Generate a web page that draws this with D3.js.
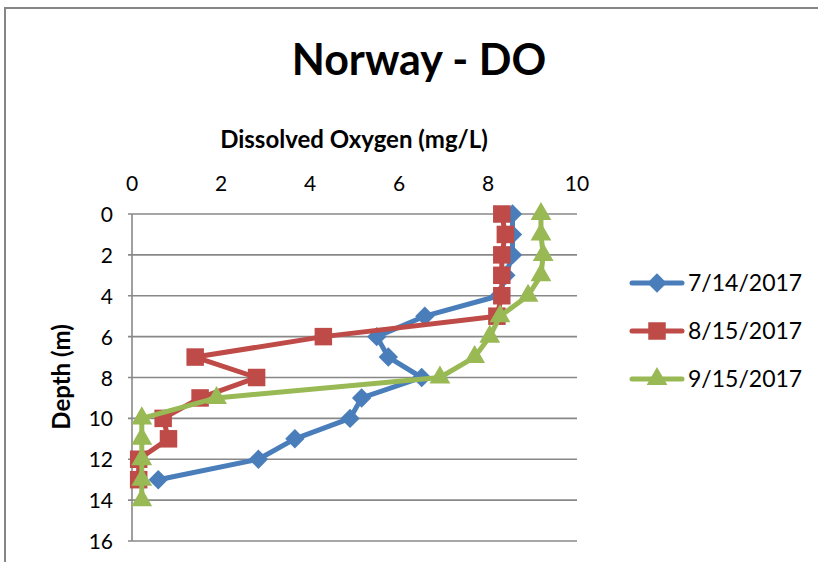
<!DOCTYPE html>
<html>
<head>
<meta charset="utf-8">
<script src="https://cdn.jsdelivr.net/npm/d3@7"></script>
<style>
  html, body { margin: 0; padding: 0; background: #fff; }
  svg { display: block; font-family: Lato, "Open Sans", sans-serif; }
</style>
</head>
<body>
<svg id="chart" width="818" height="562"></svg>
<script>
// Dissolved oxygen profiles (mg/L) by depth (m), Norway sampling site
const depthsJul = [0, 1, 2, 3, 4, 5, 6, 7, 8, 9, 10, 11, 12, 13];
const doJul     = [8.55, 8.55, 8.55, 8.4, 8.25, 6.58, 5.5, 5.76, 6.51, 5.16, 4.9, 3.66, 2.84, 0.59];

const depthsAug = [0, 1, 2, 3, 4, 5, 6, 7, 8, 9, 10, 11, 12, 13];
const doAug     = [8.31, 8.39, 8.31, 8.31, 8.31, 8.2, 4.3, 1.42, 2.8, 1.53, 0.7, 0.82, 0.15, 0.15];

const depthsSep = [0, 1, 2, 3, 4, 5, 6, 7, 8, 9, 10, 11, 12, 13, 14];
const doSep     = [9.19, 9.19, 9.24, 9.19, 8.9, 8.27, 8.04, 7.7, 6.92, 1.9, 0.22, 0.22, 0.22, 0.22, 0.22];

const seriesNames = ["7/14/2017", "8/15/2017", "9/15/2017"];
const xTicks = [0, 2, 4, 6, 8, 10];
const yTicks = [0, 2, 4, 6, 8, 10, 12, 14, 16];

const chartTitle = "Norway - DO";
const xTitle = "Dissolved Oxygen (mg/L)";
const yTitle = "Depth (m)";

const series = [
  { name: seriesNames[0], depth: depthsJul, value: doJul, color: "#4A7EBB", symbol: d3.symbolDiamond2, size: 240 },
  { name: seriesNames[1], depth: depthsAug, value: doAug, color: "#BE4B48", symbol: d3.symbolSquare2, size: 390 },
  { name: seriesNames[2], depth: depthsSep, value: doSep, color: "#98B954", symbol: d3.symbolTriangle2, size: 310 }
];

const svg = d3.select("#chart");

// outer chart frame
svg.append("rect")
  .attr("x", 5).attr("y", 8)
  .attr("width", 830).attr("height", 570)
  .attr("fill", "#fff").attr("stroke", "#868686").attr("stroke-width", 2);

const x = d3.scaleLinear().domain([0, 10]).range([132, 577]);
const y = d3.scaleLinear().domain([0, 16]).range([214, 541]);

// horizontal gridlines
svg.append("g")
  .selectAll("line")
  .data(yTicks)
  .join("line")
  .attr("x1", x(0) - 4).attr("x2", x(10))
  .attr("y1", d => y(d)).attr("y2", d => y(d))
  .attr("stroke", "#888").attr("stroke-width", 1.6);

// left axis line
svg.append("line")
  .attr("x1", x(0)).attr("x2", x(0))
  .attr("y1", y(0)).attr("y2", y(16))
  .attr("stroke", "#888").attr("stroke-width", 1.6);

// top axis tick labels
svg.append("g")
  .selectAll("text")
  .data(xTicks)
  .join("text")
  .attr("x", d => x(d)).attr("y", 191)
  .attr("text-anchor", "middle")
  .attr("font-size", 21)
  .attr("fill", "#000")
  .text(d => d);

// left axis tick labels
svg.append("g")
  .selectAll("text")
  .data(yTicks)
  .join("text")
  .attr("x", 113).attr("y", d => y(d) + 8)
  .attr("text-anchor", "end")
  .attr("font-size", 21)
  .attr("fill", "#000")
  .text(d => d);

// titles
svg.append("text")
  .attr("x", 419).attr("y", 75)
  .attr("text-anchor", "middle")
  .attr("font-size", 43).attr("font-weight", "bold")
  .text(chartTitle);

svg.append("text")
  .attr("x", 354).attr("y", 148)
  .attr("text-anchor", "middle")
  .attr("font-size", 24).attr("font-weight", "bold")
  .text(xTitle);

svg.append("text")
  .attr("transform", "translate(70,377) rotate(-90)")
  .attr("text-anchor", "middle")
  .attr("font-size", 24).attr("font-weight", "bold")
  .text(yTitle);

// series lines and markers
const line = d3.line().x(d => x(d[1])).y(d => y(d[0]));

series.forEach(s => {
  const pts = s.depth.map((dep, i) => [dep, s.value[i]]);
  const g = svg.append("g");
  g.append("path")
    .attr("d", line(pts))
    .attr("fill", "none")
    .attr("stroke", s.color)
    .attr("stroke-width", 5)
    .attr("stroke-linejoin", "round")
    .attr("stroke-linecap", "round");
  g.selectAll("path.m")
    .data(pts)
    .join("path")
    .attr("class", "m")
    .attr("transform", d => `translate(${x(d[1])},${y(d[0])})`)
    .attr("d", d3.symbol().type(s.symbol).size(s.size))
    .attr("fill", s.color);
});

// legend
const legendY = [283, 331, 379];
series.forEach((s, i) => {
  const g = svg.append("g").attr("transform", `translate(0,${legendY[i]})`);
  g.append("line")
    .attr("x1", 632).attr("x2", 682)
    .attr("y1", 0).attr("y2", 0)
    .attr("stroke", s.color).attr("stroke-width", 5)
    .attr("stroke-linecap", "round");
  g.append("path")
    .attr("transform", "translate(657,0)")
    .attr("d", d3.symbol().type(s.symbol).size(s.size))
    .attr("fill", s.color);
  g.append("text")
    .attr("x", 688).attr("y", 8)
    .attr("font-size", 23)
    .attr("fill", "#000")
    .text(s.name);
});
</script>
</body>
</html>
